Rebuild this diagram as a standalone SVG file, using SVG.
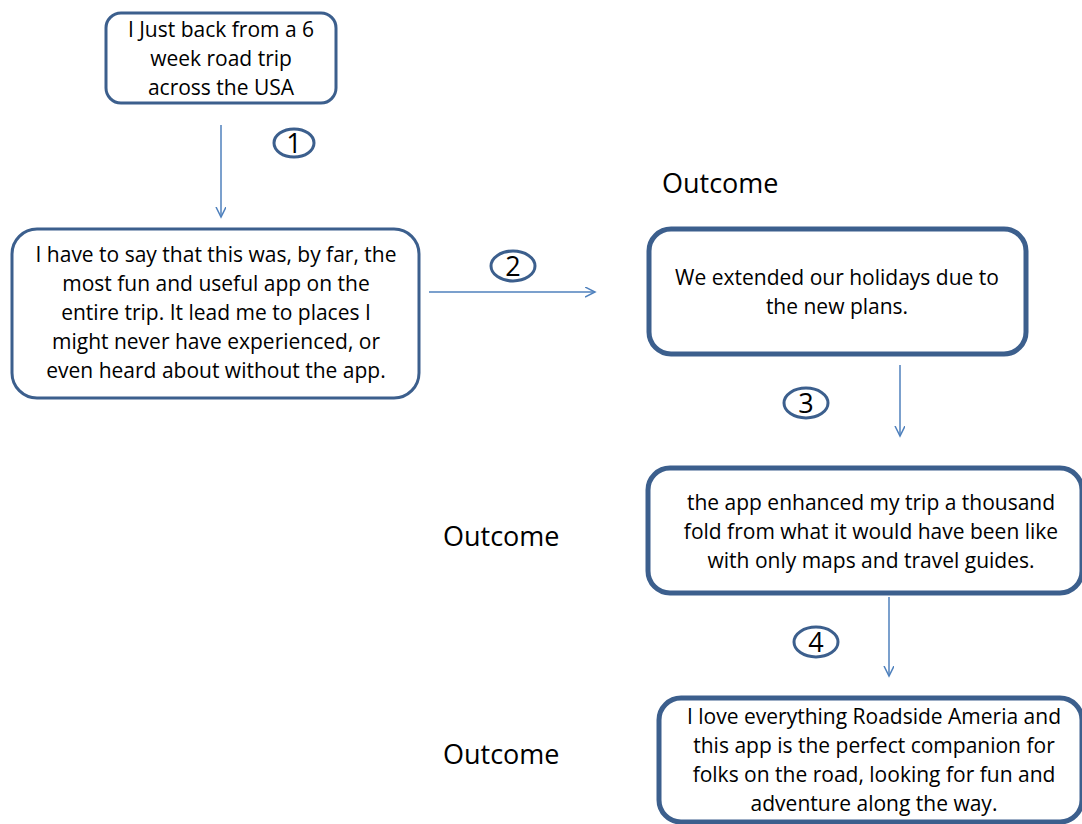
<svg xmlns="http://www.w3.org/2000/svg" width="1082" height="824" viewBox="0 0 1082 824">
  <style>
    .box { fill: #ffffff; stroke: #3c5f8d; }
    .thin { stroke-width: 3; }
    .thick { stroke-width: 5; }
    .txt { font-family: "Open Sans", "Liberation Sans", sans-serif; font-size: 21px; fill: #000; text-anchor: middle; }
    .lbl { font-family: "Open Sans", "Liberation Sans", sans-serif; font-size: 27px; fill: #000; }
    .num { font-family: "Open Sans", "Liberation Sans", sans-serif; font-size: 27px; fill: #000; text-anchor: middle; }
    .badge { fill: #ffffff; stroke: #3c5f8d; stroke-width: 3; }
    .conn { stroke: #4f81bd; stroke-width: 1.5; fill: none; }
  </style>
  <defs>
    <marker id="open" markerWidth="12" markerHeight="12" refX="10" refY="5" orient="auto" markerUnits="userSpaceOnUse">
      <path d="M0,0 L10,5 L0,10" fill="none" stroke="#4f81bd" stroke-width="1.5"/>
    </marker>
  </defs>

  <rect width="1082" height="824" fill="#ffffff"/>

  <!-- connectors with their step badges -->
  <g id="connectors">
    <line class="conn" x1="221" y1="125" x2="221" y2="217" marker-end="url(#open)"/>
    <line class="conn" x1="429" y1="292" x2="595" y2="292" marker-end="url(#open)"/>
    <line class="conn" x1="900" y1="365" x2="900" y2="436" marker-end="url(#open)"/>
    <line class="conn" x1="889" y1="597" x2="889" y2="676" marker-end="url(#open)"/>

    <ellipse class="badge" cx="294" cy="143" rx="20" ry="14"/>
    <text class="num" x="294" y="153">1</text>
    <ellipse class="badge" cx="513" cy="266" rx="22" ry="15"/>
    <text class="num" x="513" y="276">2</text>
    <ellipse class="badge" cx="806" cy="403" rx="22" ry="15"/>
    <text class="num" x="806" y="413">3</text>
    <ellipse class="badge" cx="816" cy="642" rx="22" ry="15"/>
    <text class="num" x="816" y="652">4</text>
  </g>

  <g id="node-start">
    <rect class="box thin" x="106" y="13" width="230" height="90" rx="15"/>
    <text class="txt" x="221" y="37">I Just back from a 6</text>
    <text class="txt" x="221" y="66">week road trip</text>
    <text class="txt" x="221" y="95">across the USA</text>
  </g>

  <g id="node-review">
    <rect class="box thin" x="12" y="229" width="407" height="169" rx="25"/>
    <text class="txt" x="216" y="262">I have to say that this was, by far, the</text>
    <text class="txt" x="216" y="291">most fun and useful app on the</text>
    <text class="txt" x="216" y="320">entire trip. It lead me to places I</text>
    <text class="txt" x="216" y="349">might never have experienced, or</text>
    <text class="txt" x="216" y="378">even heard about without the app.</text>
  </g>

  <g id="node-outcome-1">
    <text class="lbl" x="662" y="193">Outcome</text>
    <rect class="box thick" x="649" y="229" width="377" height="125" rx="22"/>
    <text class="txt" x="837" y="285">We extended our holidays due to</text>
    <text class="txt" x="837" y="314">the new plans.</text>
  </g>

  <g id="node-outcome-2">
    <text class="lbl" x="443" y="546">Outcome</text>
    <rect class="box thick" x="648" y="468" width="434" height="125" rx="22"/>
    <text class="txt" x="871" y="510">the app enhanced  my trip a thousand</text>
    <text class="txt" x="871" y="539">fold from what it would have been like</text>
    <text class="txt" x="871" y="568">with only maps and travel guides.</text>
  </g>

  <g id="node-outcome-3">
    <text class="lbl" x="443" y="764">Outcome</text>
    <rect class="box thick" x="659" y="698" width="423" height="124" rx="22"/>
    <text class="txt" x="874" y="724">I love everything Roadside Ameria and</text>
    <text class="txt" x="874" y="753">this app is the perfect companion for</text>
    <text class="txt" x="874" y="782">folks on the road, looking for fun and</text>
    <text class="txt" x="874" y="811">adventure along the way.</text>
  </g>
</svg>
